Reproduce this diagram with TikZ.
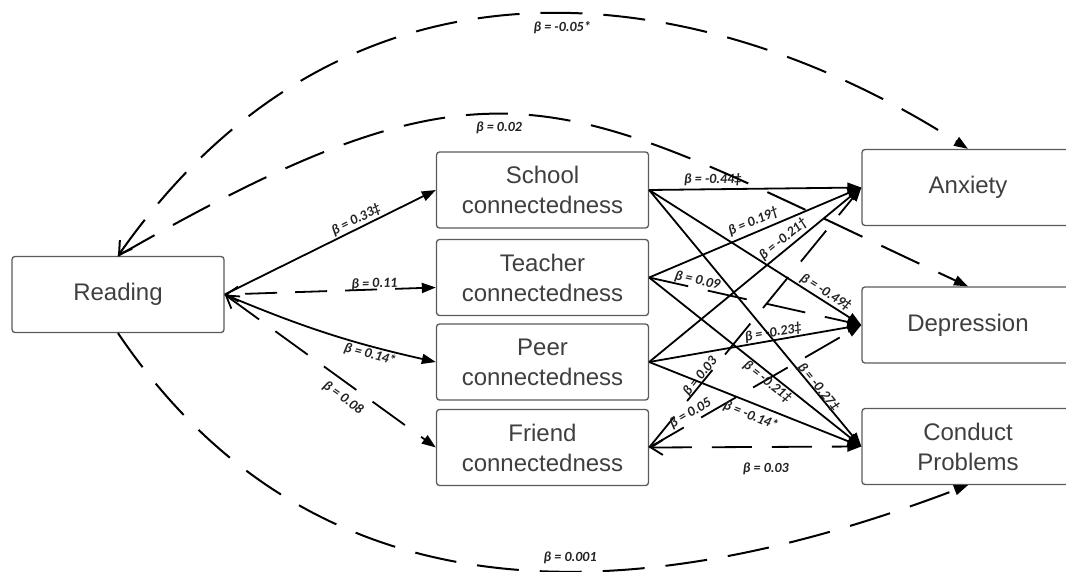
\documentclass[tikz,border=0pt]{standalone}
\usepackage{fontspec}
\setmainfont{Liberation Sans}
\newfontfamily\betafont{Carlito}
\usetikzlibrary{arrows.meta}
\definecolor{boxline}{HTML}{5A5A5A}
\definecolor{boxtext}{HTML}{3F3F3F}
\definecolor{lbltext}{HTML}{222222}

\begin{document}
\begin{tikzpicture}[x=1pt,y=-1pt,
  var/.style={draw=boxline, line width=1.3pt, rounded corners=3pt,
    minimum width=212pt, minimum height=76pt, align=center, text=boxtext,
    font=\fontsize{24}{30}\selectfont, inner sep=0pt},
  tipend/.style={-{Triangle[length=14pt,width=10pt]}},
  sig/.style={line width=1.8pt, tipend},
  ns/.style={line width=1.8pt, dash pattern=on 40pt off 20pt, tipend},
  nsb/.style={line width=1.8pt, dash pattern=on 40pt off 20pt,
    {Straight Barb[length=12pt,width=15pt]}-{Triangle[length=14pt,width=10pt]}},
  nscurve/.style={line width=2pt, dash pattern=on 42pt off 21pt, tipend},
  nscurveb/.style={line width=2pt, dash pattern=on 42pt off 21pt,
    {Straight Barb[length=12pt,width=15pt]}-{Triangle[length=14pt,width=10pt]}},
  lbl/.style={font=\betafont\bfseries\itshape\fontsize{14}{14}\selectfont,
    text=lbltext, inner sep=0.5pt},
]
\path[use as bounding box] (0,0) rectangle (1066,571);
\clip (0,0) rectangle (1066,571);

% variables
\node[var] (reading)    at (118,294.5)   {Reading};
\node[var] (school)     at (542.5,190)   {School\\connectedness};
\node[var] (teacher)    at (542.5,277.5) {Teacher\\connectedness};
\node[var] (peer)       at (542.5,362)   {Peer\\connectedness};
\node[var] (friend)     at (542.5,447.5) {Friend\\connectedness};
\node[var] (anxiety)    at (968,187.5)   {Anxiety};
\node[var] (depression) at (968,325)     {Depression};
\node[var] (conduct)    at (968,446.5)   {Conduct\\Problems};

% reading -> connectedness
\draw[sig] (reading.east) -- node[lbl, sloped, above=1pt, pos=0.64] {β = 0.33‡} (school.west);
\draw[nsb, dash pattern=on 32pt off 18pt, dash phase=32pt] (reading.east) -- node[lbl, sloped, above=-2pt, pos=0.71] {β = 0.11} ([yshift=-10pt]teacher.west);
\draw[sig] (reading.east) to[bend right=5] node[lbl, sloped, below=1pt, pos=0.72] {β = 0.14*} (peer.west);
\draw[nsb] (reading.east) -- node[lbl, sloped, below=7pt, pos=0.6] {β = 0.08} (friend.west);

% connectedness -> anxiety
\draw[sig] (school.east)  -- node[lbl, sloped, above=2pt, pos=0.3]  {β = -0.44‡} (anxiety.west);
\draw[sig] (teacher.east) -- node[lbl, sloped, above=3pt, pos=0.51] {β = 0.19†} (anxiety.west);
\draw[sig] (peer.east)    -- node[lbl, sloped, above=2pt, pos=0.66] {β = -0.21†} (anxiety.west);
\draw[ns]  (friend.east)  -- node[lbl, sloped, above=-2pt, pos=0.26] {β = 0.03} (anxiety.west);

% connectedness -> depression
\draw[sig] (school.east)  -- node[lbl, sloped, above=1pt, pos=0.81] {β = -0.49‡} (depression.west);
\draw[ns]  (teacher.east) -- node[lbl, sloped, above=0pt, pos=0.22] {β = 0.09} (depression.west);
\draw[sig] (peer.east)    -- node[lbl, sloped, above=0pt, pos=0.59] {β = -0.23‡} (depression.west);
\draw[ns]  (friend.east)  -- node[lbl, sloped, above=1.5pt, pos=0.215] {β = 0.05} (depression.west);

% connectedness -> conduct problems
\draw[sig] (school.east)  -- node[lbl, sloped, above=-3pt, pos=0.78] {β = -0.27‡} (conduct.west);
\draw[sig] (teacher.east) -- node[lbl, sloped, below=0.5pt, pos=0.58] {β = -0.21‡} (conduct.west);
\draw[sig] (peer.east)    -- node[lbl, sloped, below=5pt, pos=0.5] {β = -0.14*} (conduct.west);
\draw[nsb] (friend.east)  -- node[lbl, below=14pt, pos=0.55] {β = 0.03} (conduct.west);

% direct paths from reading
\draw[nscurveb] (reading.north) .. controls (359,-87) and (720,-10) ..
  node[lbl, below=6pt, pos=0.524] {β = -0.05*} (anxiety.north);
\draw[nscurve] (reading.north) .. controls (508,32) and (560,97) ..
  node[lbl, below=6pt, pos=0.445] {β = 0.02} (depression.north);
\draw[nscurve] (reading.south) .. controls (308,614) and (613,620) ..
  node[lbl, above=6pt, pos=0.6] {β = 0.001} (conduct.south);
\end{tikzpicture}
\end{document}
